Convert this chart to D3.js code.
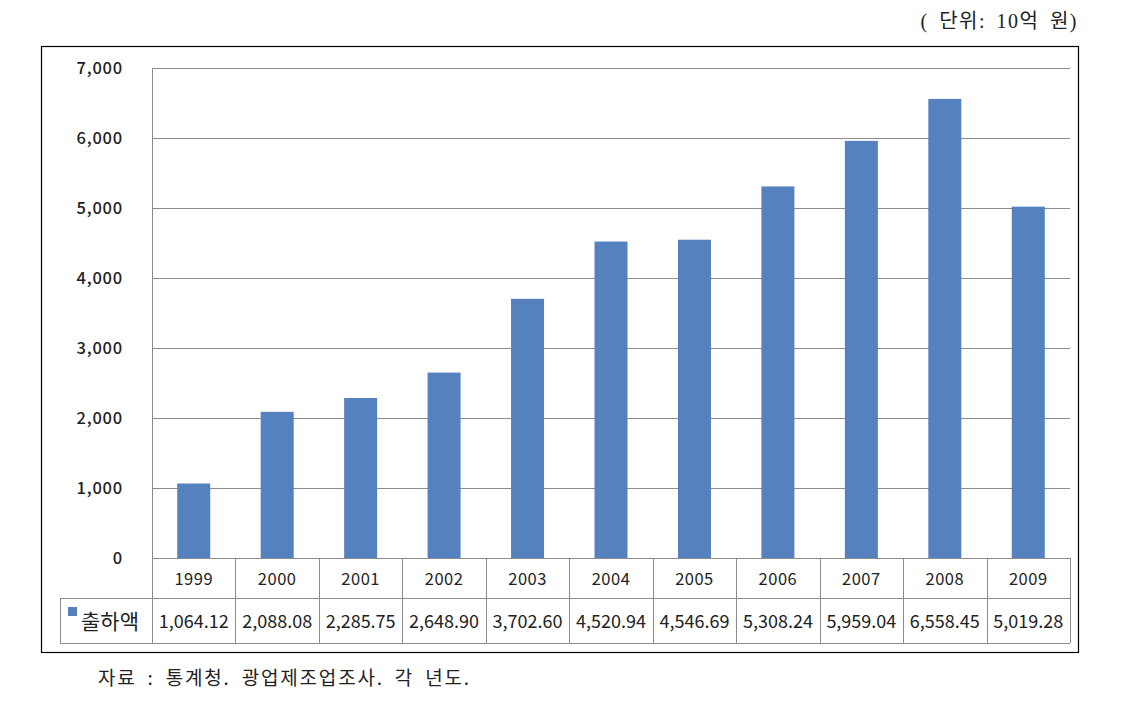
<!DOCTYPE html>
<html><head><meta charset="utf-8">
<script src="https://cdn.jsdelivr.net/npm/d3@7"></script>
<style>body{margin:0;background:#fff;} svg{display:block;}</style>
</head><body>
<svg id="c" width="1126" height="702"></svg>
<script>
const categories = ["1999","2000","2001","2002","2003","2004","2005","2006","2007","2008","2009"];
const values = [1064.12,2088.08,2285.75,2648.90,3702.60,4520.94,4546.69,5308.24,5959.04,6558.45,5019.28];
const valueLabels = ["1,064.12","2,088.08","2,285.75","2,648.90","3,702.60","4,520.94","4,546.69","5,308.24","5,959.04","6,558.45","5,019.28"];
const yTicks = [0,1000,2000,3000,4000,5000,6000,7000];
const seriesName = "출하액";
const unitText = "( 단위:  10억  원)";
const sourceText = "자료 : 통계청. 광업제조업조사. 각 년도.";

const svg = d3.select("#c");
const font = "'Noto Sans CJK KR','Noto Sans',sans-serif";
const L = 152, R = 1070, T = 68, B = 558;
const row1 = 598, row2 = 643, tableLeft = 60;

const x = d3.scaleBand().domain(categories).range([L, R]).paddingInner(0).paddingOuter(0);
const y = d3.scaleLinear().domain([0, 7000]).range([B, T]);

svg.append("rect").attr("x",41.5).attr("y",46.5).attr("width",1037).attr("height",606)
  .attr("fill","none").attr("stroke","#000").attr("stroke-width",1.2);

svg.append("g").selectAll("line").data(yTicks).join("line")
  .attr("x1",L).attr("x2",R).attr("y1",d=>Math.round(y(d))+0.5).attr("y2",d=>Math.round(y(d))+0.5)
  .attr("stroke","#8c8c8c").attr("stroke-width",1);
svg.append("line").attr("x1",L+0.5).attr("x2",L+0.5).attr("y1",T).attr("y2",row2)
  .attr("stroke","#8c8c8c");

svg.append("g").selectAll("text").data(yTicks).join("text")
  .attr("x",123).attr("y",d=>y(d)+6).attr("text-anchor","end")
  .attr("font-family",font).attr("font-size",16.5).attr("font-weight",500).attr("fill","#222")
  .attr("letter-spacing",0.8)
  .text(d=>d3.format(",")(d));

const bw = 33;
svg.append("g").selectAll("rect").data(values).join("rect")
  .attr("x",(d,i)=>x(categories[i]) + (x.bandwidth()-bw)/2)
  .attr("width",bw)
  .attr("y",d=>y(d)).attr("height",d=>B-y(d))
  .attr("fill","#5581be");

const tg = svg.append("g").attr("stroke","#8c8c8c").attr("stroke-width",1);
tg.append("line").attr("x1",tableLeft).attr("x2",R).attr("y1",row1+0.5).attr("y2",row1+0.5);
tg.append("line").attr("x1",tableLeft).attr("x2",R).attr("y1",row2+0.5).attr("y2",row2+0.5);
tg.append("line").attr("x1",tableLeft+0.5).attr("x2",tableLeft+0.5).attr("y1",row1).attr("y2",row2);
tg.selectAll("line.v").data(categories).join("line").attr("class","v")
  .attr("x1",d=>Math.round(x(d)+x.bandwidth())+0.5).attr("x2",d=>Math.round(x(d)+x.bandwidth())+0.5)
  .attr("y1",B).attr("y2",row2);

svg.append("g").selectAll("text").data(categories).join("text")
  .attr("x",d=>x(d)+x.bandwidth()/2).attr("y",585).attr("text-anchor","middle")
  .attr("font-family",font).attr("font-size",16.5).attr("fill","#222").attr("letter-spacing",0.5).text(d=>d);

svg.append("g").selectAll("text").data(valueLabels).join("text")
  .attr("x",(d,i)=>x(categories[i])+x.bandwidth()/2).attr("y",628).attr("text-anchor","middle")
  .attr("font-family",font).attr("font-size",18).attr("fill","#222").text(d=>d);

svg.append("rect").attr("x",68).attr("y",607).attr("width",9).attr("height",9).attr("fill","#5581be");
svg.append("text").attr("x",81).attr("y",629).attr("font-family",font).attr("font-size",21)
  .attr("fill","#222").text(seriesName);

svg.append("text").attr("x",1078).attr("y",28).attr("text-anchor","end")
  .attr("font-family","'Liberation Serif','Noto Sans CJK KR',serif").attr("font-size",20)
  .attr("fill","#222").attr("letter-spacing",1.5).attr("word-spacing",4).text(unitText);

svg.append("text").attr("x",98).attr("y",685).attr("font-family",font).attr("font-size",19)
  .attr("fill","#222").attr("letter-spacing",1.8).attr("word-spacing",5).text(sourceText);
</script>
</body></html>
